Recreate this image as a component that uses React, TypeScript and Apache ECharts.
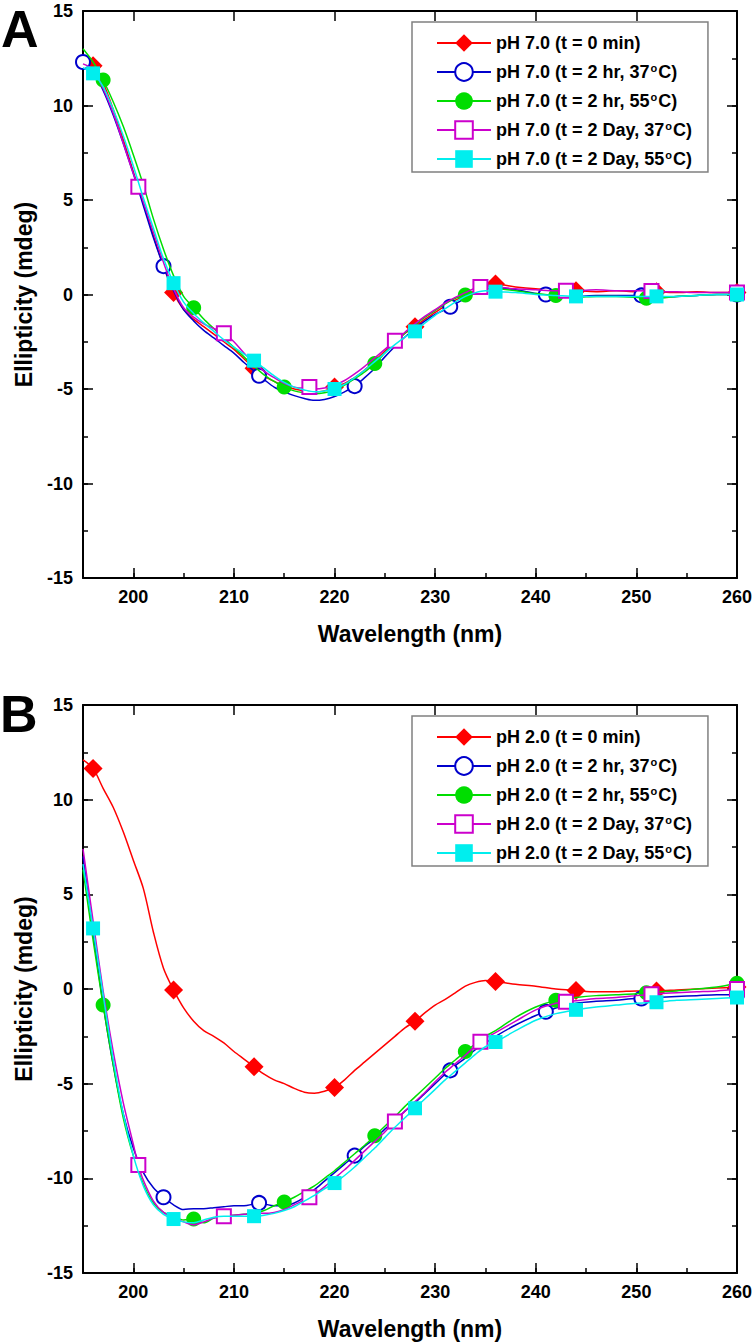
import React, { useEffect, useRef } from 'react';
import * as echarts from 'echarts';

// Wavelength grid (nm) for the spectra
const WL = [195, 196, 197, 198, 199, 200, 201, 202, 203, 204, 205, 206, 207, 208, 209, 210, 211, 212, 213, 214, 215, 216, 217, 218, 219, 220, 221, 222, 223, 224, 225, 226, 227, 228, 229, 230, 231, 232, 233, 234, 235, 236, 238, 240, 242, 244, 246, 248, 250, 252, 254, 256, 258, 260];

const X_MAJOR = [200, 210, 220, 230, 240, 250, 260];

// Panel A (pH 7.0)
const A_NAMES = [
  'pH 7.0 (t = 0 min)',
  'pH 7.0 (t = 2 hr, 37°C)',
  'pH 7.0 (t = 2 hr, 55°C)',
  'pH 7.0 (t = 2 Day, 37°C)',
  'pH 7.0 (t = 2 Day, 55°C)',
];
const A_RED = [12.3, 12.1, 11.2, 9.8, 8.2, 6.5, 4.8, 3.1, 1.5, 0.1, -0.8, -1.3, -1.7, -2.1, -2.5, -2.9, -3.4, -3.9, -4.3, -4.6, -4.85, -5.0, -5.1, -5.15, -5.1, -4.9, -4.7, -4.4, -4.0, -3.5, -3.0, -2.5, -2.05, -1.7, -1.3, -0.95, -0.6, -0.3, -0.05, 0.2, 0.4, 0.55, 0.4, 0.3, 0.25, 0.2, 0.15, 0.2, 0.15, 0.15, 0.1, 0.15, 0.1, 0.1];
const A_BLUE = [12.3, 11.8, 10.8, 9.5, 8.0, 6.4, 4.7, 3.0, 1.5, 0.2, -0.8, -1.4, -1.9, -2.3, -2.7, -3.1, -3.6, -4.05, -4.5, -4.9, -5.15, -5.35, -5.5, -5.6, -5.55, -5.4, -5.15, -4.85, -4.4, -3.9, -3.3, -2.75, -2.25, -1.8, -1.4, -1.05, -0.8, -0.5, -0.2, 0.1, 0.3, 0.35, 0.25, 0.05, -0.05, -0.1, -0.05, -0.05, -0.05, -0.15, -0.1, -0.05, 0.0, 0.0];
const A_GREEN = [13.0, 12.3, 11.35, 10.2, 8.9, 7.4, 5.8, 4.0, 2.4, 1.0, -0.1, -0.7, -1.3, -1.8, -2.3, -2.8, -3.3, -3.8, -4.25, -4.6, -4.9, -5.1, -5.2, -5.25, -5.2, -5.05, -4.8, -4.45, -4.1, -3.65, -3.1, -2.55, -2.05, -1.6, -1.2, -0.85, -0.5, -0.2, -0.03, 0.15, 0.3, 0.3, 0.2, 0.05, -0.05, -0.15, -0.1, -0.1, -0.15, -0.2, -0.1, -0.05, 0.0, 0.0];
const A_MAGENTA = [12.2, 11.9, 10.9, 9.6, 8.0, 6.4, 4.9, 3.3, 1.7, 0.3, -0.7, -1.2, -1.55, -1.8, -2.05, -2.5, -3.1, -3.6, -4.05, -4.4, -4.7, -4.9, -4.95, -5.0, -4.95, -4.8, -4.55, -4.2, -3.8, -3.35, -2.9, -2.45, -2.0, -1.55, -1.15, -0.8, -0.45, -0.15, 0.1, 0.35, 0.42, 0.4, 0.3, 0.25, 0.2, 0.2, 0.25, 0.2, 0.2, 0.15, 0.15, 0.1, 0.1, 0.1];
const A_CYAN = [12.0, 11.7, 11.0, 9.8, 8.4, 6.8, 5.1, 3.5, 1.9, 0.6, -0.4, -1.0, -1.5, -1.95, -2.4, -2.8, -3.15, -3.5, -3.9, -4.3, -4.65, -4.9, -5.05, -5.15, -5.1, -5.0, -4.75, -4.4, -4.0, -3.55, -3.1, -2.65, -2.25, -1.95, -1.5, -1.1, -0.75, -0.4, -0.1, 0.1, 0.2, 0.15, 0.1, 0.0, -0.05, -0.1, -0.1, -0.1, -0.1, -0.1, -0.1, -0.05, 0.0, 0.0];

const A_RED_MK = [[196, 12.1], [204, 0.1], [212, -3.9], [220, -4.9], [228, -1.7], [236, 0.55], [244, 0.2], [252, 0.15], [260, 0.1]];
const A_BLUE_MK = [[195, 12.3], [203, 1.5], [212.5, -4.3], [222, -4.85], [231.5, -0.65], [241, 0.0], [250.5, -0.05], [260, 0.0]];
const A_GREEN_MK = [[197, 11.35], [206, -0.7], [215, -4.9], [224, -3.65], [233, -0.03], [242, -0.05], [251, -0.2], [260, 0.0]];
const A_MAGENTA_MK = [[200.5, 5.7], [209, -2.05], [217.5, -4.9], [226, -2.45], [234.5, 0.4], [243, 0.2], [251.5, 0.18], [260, 0.1]];
const A_CYAN_MK = [[196, 11.7], [204, 0.6], [212, -3.5], [220, -5.0], [228, -1.95], [236, 0.15], [244, -0.1], [252, -0.1], [260, 0.0]];

// Panel B (pH 2.0)
const B_NAMES = [
  'pH 2.0 (t = 0 min)',
  'pH 2.0 (t = 2 hr, 37°C)',
  'pH 2.0 (t = 2 hr, 55°C)',
  'pH 2.0 (t = 2 Day, 37°C)',
  'pH 2.0 (t = 2 Day, 55°C)',
];
const B_RED = [12.1, 11.65, 10.6, 9.6, 8.3, 6.8, 5.3, 3.0, 1.1, -0.05, -1.0, -1.7, -2.2, -2.5, -2.85, -3.3, -3.7, -4.1, -4.5, -4.8, -5.0, -5.25, -5.45, -5.5, -5.4, -5.2, -4.8, -4.3, -3.85, -3.4, -2.95, -2.5, -2.05, -1.7, -1.25, -0.85, -0.55, -0.2, 0.15, 0.35, 0.45, 0.4, 0.25, 0.15, 0.0, -0.08, -0.15, -0.15, -0.1, -0.1, -0.05, 0.0, 0.05, 0.1];
const B_BLUE = [7.0, 3.0, -0.8, -4.0, -6.6, -8.4, -9.7, -10.5, -11.0, -11.4, -11.65, -11.6, -11.6, -11.55, -11.5, -11.45, -11.45, -11.35, -11.35, -11.45, -11.45, -11.3, -11.0, -10.6, -10.15, -9.7, -9.25, -8.8, -8.3, -7.9, -7.4, -6.95, -6.45, -6.0, -5.5, -5.0, -4.5, -4.05, -3.65, -3.2, -2.85, -2.5, -1.9, -1.4, -1.0, -0.75, -0.65, -0.6, -0.5, -0.45, -0.4, -0.35, -0.3, -0.3];
const B_GREEN = [6.3, 2.6, -0.85, -4.0, -6.8, -8.8, -10.3, -11.3, -11.8, -12.0, -12.2, -12.15, -12.35, -12.1, -12.0, -11.95, -11.9, -11.85, -11.7, -11.45, -11.25, -11.0, -10.7, -10.4, -10.0, -9.6, -9.15, -8.7, -8.25, -7.75, -7.25, -6.75, -6.2, -5.7, -5.2, -4.7, -4.2, -3.75, -3.3, -2.9, -2.5, -2.2, -1.5, -0.95, -0.6, -0.45, -0.35, -0.3, -0.25, -0.15, -0.1, 0.0, 0.1, 0.3];
const B_MAGENTA = [7.4, 3.6, -0.1, -3.3, -6.0, -8.2, -10.1, -11.2, -11.8, -12.1, -12.3, -12.45, -12.3, -12.1, -12.0, -11.95, -11.9, -11.85, -11.85, -11.8, -11.65, -11.4, -11.15, -10.85, -10.45, -10.0, -9.55, -9.05, -8.55, -8.05, -7.55, -7.0, -6.45, -5.95, -5.45, -4.9, -4.4, -3.95, -3.5, -3.0, -2.6, -2.3, -1.7, -1.1, -0.75, -0.62, -0.5, -0.45, -0.35, -0.25, -0.2, -0.15, -0.1, 0.0];
const B_CYAN = [6.6, 3.2, -0.3, -3.7, -6.6, -8.8, -10.4, -11.4, -11.9, -12.15, -12.3, -12.35, -12.2, -12.05, -12.0, -12.0, -12.0, -12.0, -11.95, -11.85, -11.7, -11.5, -11.2, -10.9, -10.55, -10.25, -9.85, -9.4, -8.9, -8.4, -7.85, -7.3, -6.8, -6.3, -5.8, -5.3, -4.8, -4.35, -3.9, -3.45, -3.05, -2.8, -2.2, -1.65, -1.3, -1.1, -0.95, -0.85, -0.75, -0.7, -0.6, -0.55, -0.5, -0.45];

const B_RED_MK = [[196, 11.65], [204, -0.05], [212, -4.1], [220, -5.2], [228, -1.7], [236, 0.4], [244, -0.08], [252, -0.1], [260, 0.1]];
const B_BLUE_MK = [[203, -11.0], [212.5, -11.3], [222, -8.8], [231.5, -4.3], [241, -1.2], [250.5, -0.5], [260, -0.3]];
const B_GREEN_MK = [[197, -0.85], [206, -12.15], [215, -11.25], [224, -7.75], [233, -3.3], [242, -0.6], [251, -0.2], [260, 0.3]];
const B_MAGENTA_MK = [[200.5, -9.3], [209, -12.0], [217.5, -11.0], [226, -7.0], [234.5, -2.78], [243, -0.68], [251.5, -0.28], [260, 0.0]];
const B_CYAN_MK = [[196, 3.2], [204, -12.15], [212, -12.0], [220, -10.25], [228, -6.3], [236, -2.8], [244, -1.1], [252, -0.7], [260, -0.45]];

const COLORS = ['#ff0000', '#0000cc', '#00dd00', '#cc00cc', '#00eeee'];
const SYMBOLS = ['diamond', 'emptyCircle', 'circle', 'emptyRect', 'rect'];
const SIZES = [19, 14, 15, 14, 14];

const FONT = 'Liberation Sans, Arial, Helvetica, sans-serif';

function buildData(values: number[], markers: number[][]) {
  const pts: { x: number; y: number; m: boolean }[] = WL.map((x, i) => ({ x, y: values[i], m: false }));
  markers.forEach(([x, y]) => {
    const idx = pts.findIndex((p) => p.x === x);
    if (idx >= 0) {
      pts[idx].y = y;
      pts[idx].m = true;
    } else {
      pts.push({ x, y, m: true });
    }
  });
  pts.sort((a, b) => a.x - b.x);
  return pts.map((p) => (p.m ? { value: [p.x, p.y] } : { value: [p.x, p.y], symbol: 'none' }));
}

const tickLine = { color: '#000', width: 1.5 };
const labelStyle = { color: '#000', fontSize: 18, fontWeight: 'bold', fontFamily: FONT };
const titleStyle = { color: '#000', fontSize: 23, fontWeight: 'bold', fontFamily: FONT };

function makeXAxes(grid: number) {
  return [
    {
      gridIndex: grid, type: 'value', position: 'bottom', min: 195, max: 260,
      axisLine: { show: true, onZero: false, lineStyle: { color: '#000', width: 2 } },
      axisTick: { show: true, inside: true, length: 10, customValues: X_MAJOR, lineStyle: tickLine },
      axisLabel: { show: true, customValues: X_MAJOR, margin: 10, ...labelStyle },
      splitLine: { show: false },
      name: 'Wavelength (nm)', nameLocation: 'middle', nameGap: 44, nameTextStyle: titleStyle,
    },
    {
      gridIndex: grid, type: 'value', position: 'bottom', min: 195, max: 260, interval: 5,
      axisLine: { show: false, onZero: false },
      axisTick: { show: true, inside: true, length: 5, lineStyle: tickLine },
      axisLabel: { show: false },
      splitLine: { show: false },
    },
    {
      gridIndex: grid, type: 'value', position: 'top', min: 195, max: 260,
      axisLine: { show: true, onZero: false, lineStyle: { color: '#000', width: 2 } },
      axisTick: { show: true, inside: true, length: 10, customValues: X_MAJOR, lineStyle: tickLine },
      axisLabel: { show: false },
      splitLine: { show: false },
    },
  ];
}

function makeYAxes(grid: number) {
  const base = { gridIndex: grid, type: 'value', min: -15, max: 15, splitLine: { show: false } };
  return [
    {
      ...base, position: 'left', interval: 5,
      axisLine: { show: true, onZero: false, lineStyle: { color: '#000', width: 2 } },
      axisTick: { show: true, inside: true, length: 10, lineStyle: tickLine },
      axisLabel: { show: true, margin: 10, ...labelStyle },
      name: 'Ellipticity (mdeg)', nameLocation: 'middle', nameGap: 48, nameTextStyle: titleStyle,
    },
    {
      ...base, position: 'left', interval: 2.5,
      axisLine: { show: false, onZero: false },
      axisTick: { show: true, inside: true, length: 5, lineStyle: tickLine },
      axisLabel: { show: false },
    },
    {
      ...base, position: 'right', interval: 5,
      axisLine: { show: true, onZero: false, lineStyle: { color: '#000', width: 2 } },
      axisTick: { show: true, inside: true, length: 10, lineStyle: tickLine },
      axisLabel: { show: false },
    },
    {
      ...base, position: 'right', interval: 2.5,
      axisLine: { show: false, onZero: false },
      axisTick: { show: true, inside: true, length: 5, lineStyle: tickLine },
      axisLabel: { show: false },
    },
  ];
}

function makeSeries(names: string[], values: number[][], markers: number[][][], xIdx: number, yIdx: number) {
  return names.map((name, i) => ({
    type: 'line',
    name,
    xAxisIndex: xIdx,
    yAxisIndex: yIdx,
    data: buildData(values[i], markers[i]),
    symbol: SYMBOLS[i],
    symbolSize: SIZES[i],
    showAllSymbol: true,
    smooth: 0.3,
    lineStyle: { color: COLORS[i], width: 1.5 },
    itemStyle: { color: COLORS[i], borderColor: COLORS[i], borderWidth: SYMBOLS[i].startsWith('empty') ? 2 : 0 },
    emphasis: { disabled: true },
    z: 2 + i,
  }));
}

function makeLegend(names: string[], top: number) {
  return {
    data: names,
    orient: 'vertical',
    left: 412,
    top,
    itemWidth: 54,
    itemHeight: 22,
    itemGap: 9,
    padding: [11, 16, 3, 24],
    borderColor: '#808080',
    borderWidth: 1.5,
    backgroundColor: '#fff',
    selectedMode: false,
    formatter: (n: string) => n.replace('°C', '{sup|o}C'),
    textStyle: {
      color: '#000', fontSize: 18, fontWeight: 'bold', fontFamily: FONT, lineHeight: 20,
      rich: {
        sup: { color: '#000', fontSize: 11, fontWeight: 'bold', fontFamily: FONT, lineHeight: 11, verticalAlign: 'top', padding: [0, 1, 0, 1] },
      },
    },
  };
}

export default function App() {
  const ref = useRef<HTMLDivElement>(null);
  useEffect(() => {
    document.body.style.margin = '0';
    if (!ref.current) return;
    const chart = echarts.init(ref.current, undefined, { renderer: 'svg' });
    const option = {
      animation: false,
      backgroundColor: '#fff',
      grid: [
        { left: 83, top: 11, width: 655, height: 567 },
        { left: 83, top: 705, width: 655, height: 568 },
      ],
      xAxis: [...makeXAxes(0), ...makeXAxes(1)],
      yAxis: [...makeYAxes(0), ...makeYAxes(1)],
      legend: [makeLegend(A_NAMES, 22), makeLegend(B_NAMES, 716)],
      graphic: [
        { type: 'text', style: { text: 'A', x: 1, y: 29, fill: '#000', font: `bold 52px ${FONT}`, textVerticalAlign: 'middle' } },
        { type: 'text', style: { text: 'B', x: 0, y: 714, fill: '#000', font: `bold 52px ${FONT}`, textVerticalAlign: 'middle' } },
      ],
      series: [
        ...makeSeries(A_NAMES, [A_RED, A_BLUE, A_GREEN, A_MAGENTA, A_CYAN], [A_RED_MK, A_BLUE_MK, A_GREEN_MK, A_MAGENTA_MK, A_CYAN_MK], 0, 0),
        ...makeSeries(B_NAMES, [B_RED, B_BLUE, B_GREEN, B_MAGENTA, B_CYAN], [B_RED_MK, B_BLUE_MK, B_GREEN_MK, B_MAGENTA_MK, B_CYAN_MK], 3, 4),
      ],
    };
    chart.setOption(option as any);
    return () => chart.dispose();
  }, []);
  return <div ref={ref} style={{ width: 755, height: 1344 }} />;
}
